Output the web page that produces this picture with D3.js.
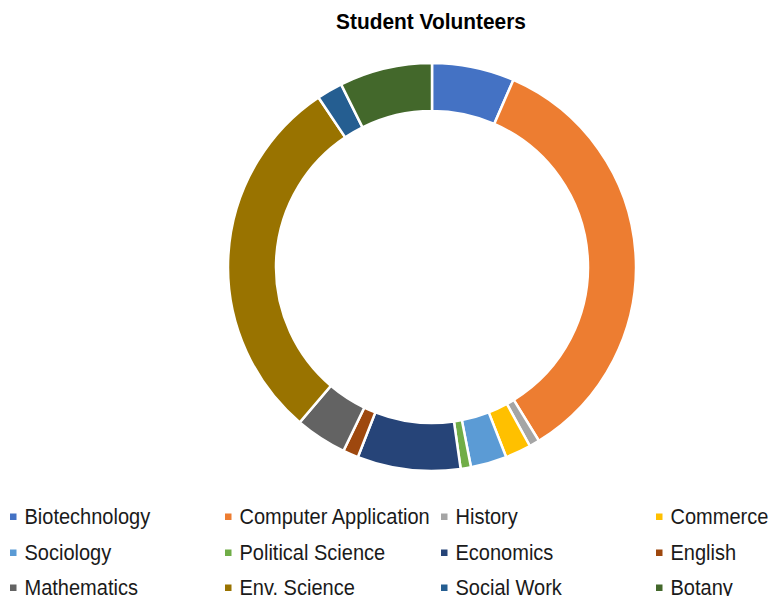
<!DOCTYPE html>
<html><head><meta charset="utf-8">
<script src="https://cdn.jsdelivr.net/npm/d3@7"></script>
<style>body{margin:0;background:#fff;}svg{display:block;}</style>
</head><body>
<svg id="chart" width="771" height="596"></svg>
<script>
const categories = ["Biotechnology","Computer Application","History","Commerce","Sociology","Political Science","Economics","English","Mathematics","Env. Science","Social Work","Botany"];
const values = [16,85,2,5,7,2,20,3,10,72,5,18];
const colors = ["#4472C4","#ED7D31","#A5A5A5","#FFC000","#5B9BD5","#70AD47","#264478","#9E480E","#636363","#997300","#255E91","#43682B"];
const title = "Student Volunteers";

const svg = d3.select("#chart");
const cx = 432, cy = 267, R = 204, r = 156;
const data = categories.map((c,i)=>({name:c, value:values[i], color:colors[i]}));
const pie = d3.pie().value(d=>d.value).sort(null);
const arc = d3.arc().innerRadius(r).outerRadius(R);
svg.append("g").attr("transform",`translate(${cx},${cy})`)
  .selectAll("path").data(pie(data)).join("path")
  .attr("d",arc).attr("fill",d=>d.data.color)
  .attr("stroke","#fff").attr("stroke-width",2.5);

svg.append("text").attr("transform","translate(431,29) scale(0.95,1)").attr("text-anchor","middle")
  .attr("font-family","'Liberation Sans', Arial, sans-serif").attr("font-weight","bold")
  .attr("font-size",22).attr("fill","#000").text(title);

const colX = d3.scaleOrdinal().domain([0,1,2,3]).range([13,228,444,659]);
const rowY = d3.scaleOrdinal().domain([0,1,2]).range([524,560,595]);
const lg = svg.append("g").selectAll("g").data(data).join("g")
  .attr("transform",(d,i)=>`translate(${colX(i%4)},${rowY(Math.floor(i/4))})`);
lg.append("rect").attr("x",-3).attr("y",-10.5).attr("width",6.5).attr("height",6.5).attr("fill",d=>d.color);
lg.append("text").attr("transform","translate(11.5,0) scale(0.91,1)")
  .attr("font-family","'Liberation Sans', Arial, sans-serif").attr("font-size",22)
  .attr("fill","#1a1a1a").text(d=>d.name);
</script>
</body></html>
